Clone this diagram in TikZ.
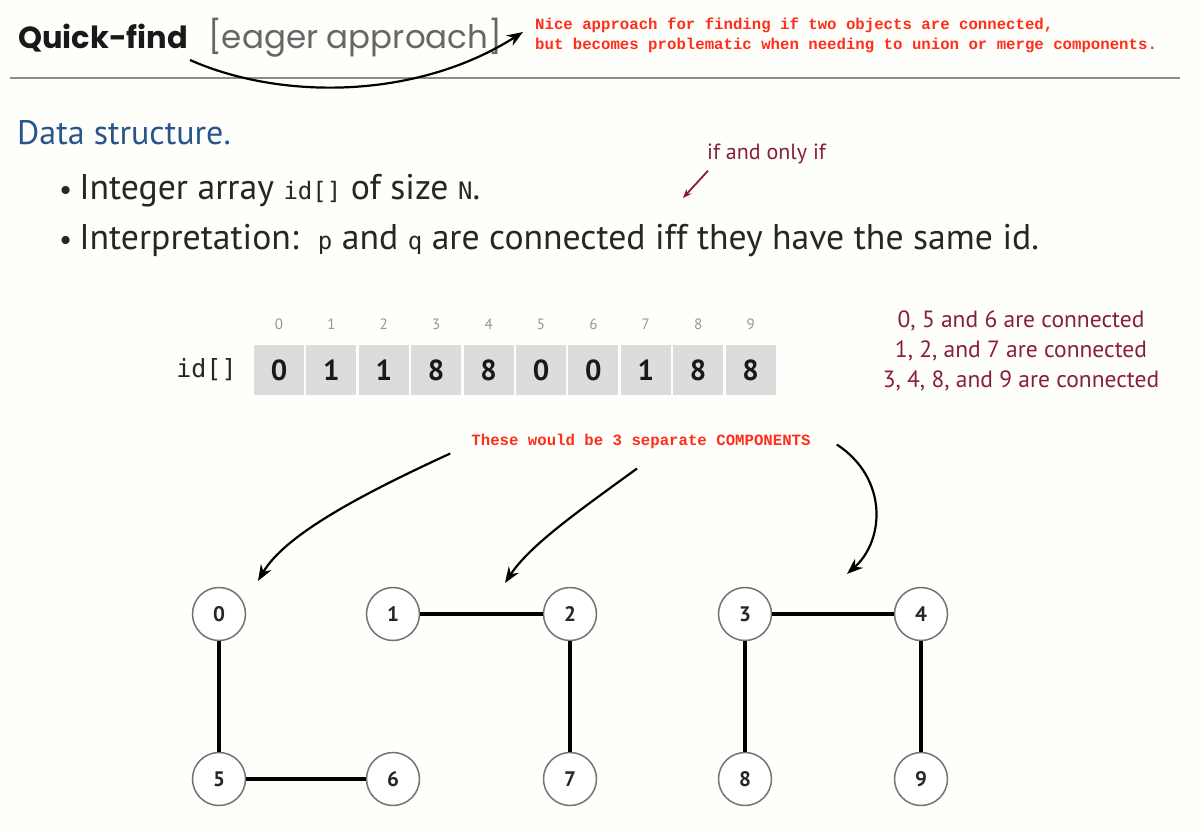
\documentclass[tikz,border=0pt]{standalone}
\usepackage{fontspec}
\setmainfont{PT Sans}
\newfontfamily\titlefont{Poppins}
\newfontfamily\notefont{Liberation Mono}
\newfontfamily\codefont{DejaVu Sans Mono}
\usetikzlibrary{arrows.meta,positioning}
\definecolor{noteRed}{RGB}{255,45,25}
\definecolor{wine}{RGB}{135,30,65}
\definecolor{slideBlue}{RGB}{40,85,140}
\definecolor{cellGray}{RGB}{220,220,220}
\definecolor{idxGray}{RGB}{150,150,150}
\definecolor{paper}{RGB}{254,254,250}
\newcommand{\code}[1]{{\codefont\fontsize{24}{24}\selectfont #1}}
\newcommand{\itemdot}{{\fontsize{29}{29}\selectfont\textbullet}\hspace{7pt}}
\begin{document}
\begin{tikzpicture}[x=1pt, y=-1pt,
	note/.style={font=\notefont\bfseries\fontsize{15.7}{20}\selectfont, text=noteRed, align=left, inner sep=0pt},
	body/.style={anchor=base west, inner sep=0pt, text=black!85, font=\fontsize{35.7}{35.7}\selectfont},
	cell/.style={fill=cellGray, minimum width=50pt, minimum height=50pt, inner sep=0pt, text=black!90, font=\bfseries\fontsize{29}{29}\selectfont},
	idx/.style={text=idxGray, inner sep=0pt, font=\fontsize{15}{15}\selectfont},
	vertex/.style={circle, draw=black!55, line width=1.5pt, fill=white, minimum size=53pt, inner sep=0pt, text=black!85, font=\bfseries\fontsize{21}{21}\selectfont},
	edge/.style={line width=4pt},
	pointer/.style={-{Stealth[length=16pt, width=12pt]}, line width=2.2pt}]
	% page
	\fill[paper] (0,0) rectangle (1203,836);
	\useasboundingbox (0,0) rectangle (1203,836);

	% heading
	\node[anchor=base west, inner sep=0pt, text=black!90, font=\titlefont\bfseries\fontsize{30.5}{30.5}\selectfont](title) at (18,48){Quick-find};
	\node[anchor=base west, inner sep=0pt, text=black!60, font=\titlefont\fontsize{32.5}{32.5}\selectfont](eager) at (208,48){[eager approach]};
	\draw[black!45, line width=2pt] (10,78) -- (1180,78);
	\node[note, anchor=west](nice) at (535,35){Nice approach for finding if two objects are connected,\\but becomes problematic when needing to union or merge components.};
	\coordinate (titleTail) at (190,60);
	\draw[pointer] (titleTail) .. controls (280,100) and (416,100) .. ([xshift=-12pt, yshift=3pt]nice.west);

	% data structure
	\node[anchor=base west, inner sep=0pt, text=slideBlue, font=\fontsize{34}{34}\selectfont](ds) at (17,144){Data structure.};
	\node[body](itemA) at (59,199){\itemdot Integer array \code{id[]} of size \code{N}.};
	\node[body](itemB) at (59,249){\itemdot Interpretation:\ \ \code{p} and \code{q} are connected iff they have the same id.};
	\node[anchor=base west, inner sep=0pt, text=wine, font=\fontsize{22}{22}\selectfont](iff) at (707,159){if and only if};
	\coordinate (iffTip) at (683,198);
	\draw[wine, line width=1.8pt, -{Stealth[length=9pt, width=7pt]}] ([xshift=1pt, yshift=-7pt]iff.south west) -- (iffTip);

	% the array
	\node[cell](cell0) at (279,370){0};
	\node[cell, right=2pt of cell0](cell1){1};
	\node[cell, right=2pt of cell1](cell2){1};
	\node[cell, right=2pt of cell2](cell3){8};
	\node[cell, right=2pt of cell3](cell4){8};
	\node[cell, right=2pt of cell4](cell5){0};
	\node[cell, right=2pt of cell5](cell6){0};
	\node[cell, right=2pt of cell6](cell7){1};
	\node[cell, right=2pt of cell7](cell8){8};
	\node[cell, right=2pt of cell8](cell9){8};
	\node[idx, above=15pt of cell0](idx0){0};
	\node[idx, above=15pt of cell1](idx1){1};
	\node[idx, above=15pt of cell2](idx2){2};
	\node[idx, above=15pt of cell3](idx3){3};
	\node[idx, above=15pt of cell4](idx4){4};
	\node[idx, above=15pt of cell5](idx5){5};
	\node[idx, above=15pt of cell6](idx6){6};
	\node[idx, above=15pt of cell7](idx7){7};
	\node[idx, above=15pt of cell8](idx8){8};
	\node[idx, above=15pt of cell9](idx9){9};
	\node[left=17pt of cell0, inner sep=0pt, text=black!85, font=\codefont\fontsize{25}{25}\selectfont](idLabel){id[]};
	\node[text=wine, align=center, font=\fontsize{23.5}{30}\selectfont](groups) at (1021,351){0, 5 and 6 are connected\\1, 2, and 7 are connected\\3, 4, 8, and 9 are connected};

	% components
	\node[note](comps) at (641,441){These would be 3 separate COMPONENTS};
	\node[vertex](v0) at (219,614){0};
	\node[vertex](v1) at (393,614){1};
	\node[vertex](v2) at (570,614){2};
	\node[vertex](v3) at (745,614){3};
	\node[vertex](v4) at (921,614){4};
	\node[vertex](v5) at (219,779){5};
	\node[vertex](v6) at (393,779){6};
	\node[vertex](v7) at (570,779){7};
	\node[vertex](v8) at (745,779){8};
	\node[vertex](v9) at (921,779){9};
	\draw[edge] (v0) -- (v5);
	\draw[edge] (v5) -- (v6);
	\draw[edge] (v1) -- (v2);
	\draw[edge] (v2) -- (v7);
	\draw[edge] (v3) -- (v4);
	\draw[edge] (v3) -- (v8);
	\draw[edge] (v4) -- (v9);
	\coordinate (tipA) at (258,581);
	\coordinate (tipB) at (505,583);
	\coordinate (tipC) at (847,574);
	\draw[pointer] ([xshift=-21pt, yshift=-5pt]comps.south west) .. controls (360,495) and (285,535) .. (tipA);
	\draw[pointer] ([xshift=-4pt, yshift=-20pt]comps.south) .. controls (580,510) and (530,545) .. (tipB);
	\draw[pointer] ([xshift=26pt, yshift=-11pt]comps.north east) .. controls (888,478) and (885,540) .. (tipC);
\end{tikzpicture}
\end{document}
